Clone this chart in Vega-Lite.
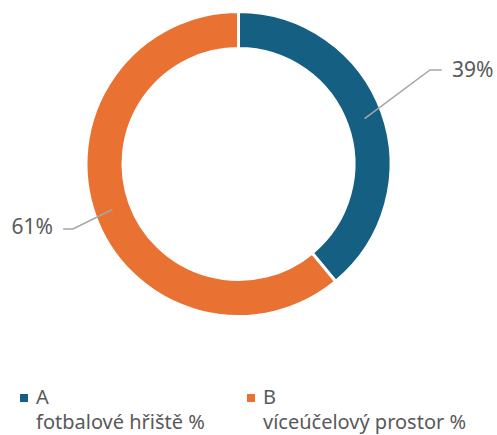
{
  "$schema": "https://vega.github.io/schema/vega-lite/v6.json",
  "width": 477,
  "height": 328,
  "autosize": "none",
  "padding": {"left": 0, "top": 0, "right": 20, "bottom": 107},
  "background": "white",
  "config": {
    "view": {"stroke": null},
    "font": "Noto Sans",
    "style": {"guide-label": {"lineHeight": 25}}
  },
  "layer": [
    {
      "data": {"values": [
        {"cat": "A", "name": "fotbalové hřiště %", "share": 39},
        {"cat": "B", "name": "víceúčelový prostor %", "share": 61}
      ]},
      "mark": {"type": "arc", "innerRadius": 115.5, "outerRadius": 152.5, "stroke": "white", "strokeWidth": 3},
      "encoding": {
        "theta": {"field": "share", "type": "quantitative", "stack": true},
        "order": {"field": "cat", "type": "nominal"},
        "color": {
          "field": "cat", "type": "nominal",
          "scale": {"domain": ["A", "B"], "range": ["#156082", "#E97132"]},
          "legend": {
            "orient": "none", "legendX": 14, "legendY": 388,
            "direction": "horizontal", "columns": 2, "title": null,
            "padding": 0,
            "symbolType": "square", "symbolSize": 64, "symbolStrokeWidth": 0,
            "labelFontSize": 20, "labelColor": "#595959", "labelFont": "Noto Sans",
            "labelBaseline": "middle",
            "labelExpr": "datum.value == 'A' ? ['A', 'fotbalové hřiště %'] : ['B', 'víceúčelový prostor %']",
            "labelOffset": 2, "labelLimit": 400, "columnPadding": 36
          }
        }
      }
    },
    {
      "data": {"values": [
        {"lab": "A", "i": 0, "x": 0.835, "y": 0.301},
        {"lab": "A", "i": 1, "x": 1.268, "y": 0.6225},
        {"lab": "A", "i": 2, "x": 1.346, "y": 0.6225},
        {"lab": "B", "i": 0, "x": -0.835, "y": -0.301},
        {"lab": "B", "i": 1, "x": -1.096, "y": -0.430},
        {"lab": "B", "i": 2, "x": -1.162, "y": -0.430}
      ]},
      "mark": {"type": "line", "color": "#A6A6A6", "strokeWidth": 1.5},
      "encoding": {
        "x": {"field": "x", "type": "quantitative", "scale": {"domain": [-1.5795, 1.5795], "nice": false, "zero": false}, "axis": null},
        "y": {"field": "y", "type": "quantitative", "scale": {"domain": [-1.086, 1.086], "nice": false, "zero": false}, "axis": null},
        "detail": {"field": "lab", "type": "nominal"},
        "order": {"field": "i", "type": "quantitative"}
      }
    },
    {
      "data": {"values": [{"t": "39%", "x": 1.414, "y": 0.613}]},
      "mark": {"type": "text", "align": "left", "baseline": "middle", "fontSize": 21, "color": "#595959", "font": "Noto Sans"},
      "encoding": {
        "x": {"field": "x", "type": "quantitative"},
        "y": {"field": "y", "type": "quantitative"},
        "text": {"field": "t"}
      }
    },
    {
      "data": {"values": [{"t": "61%", "x": -1.2285, "y": -0.424}]},
      "mark": {"type": "text", "align": "right", "baseline": "middle", "fontSize": 21, "color": "#595959", "font": "Noto Sans"},
      "encoding": {
        "x": {"field": "x", "type": "quantitative"},
        "y": {"field": "y", "type": "quantitative"},
        "text": {"field": "t"}
      }
    }
  ]
}
